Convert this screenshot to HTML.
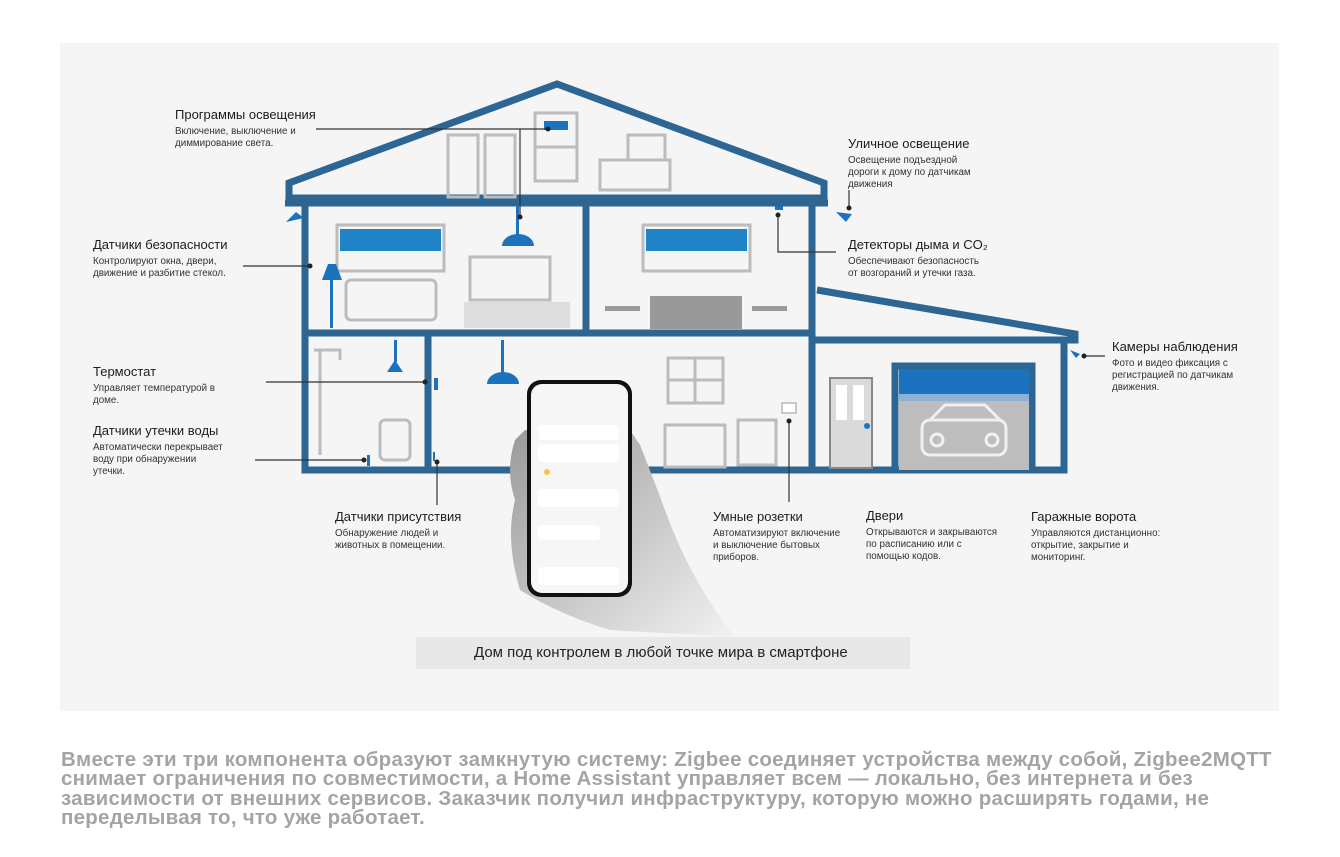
<!DOCTYPE html>
<html><head><meta charset="utf-8"><style>
body{margin:0;background:#fff;width:1340px;height:857px;overflow:hidden;font-family:"Liberation Sans",sans-serif}
.panel{position:absolute;left:60px;top:43px;width:1219px;height:668px;background:#f5f5f5}
svg{position:absolute;left:0;top:0}
.t{position:absolute;color:#222;font-size:12px;line-height:1}
.t b{display:block;font-weight:normal;font-size:13px;margin-bottom:5px;color:#1c1c1c}
.t span{display:block;font-size:9.8px;line-height:12px;color:#333}
.cap{position:absolute;left:416px;top:637px;width:494px;height:32px;background:#e8e8e8;font-size:15px;line-height:32px;color:#222;text-indent:58px}
.para{position:absolute;left:61px;top:750px;width:1228px;font-size:20.5px;font-weight:bold;line-height:19.3px;color:#a4a4a4;letter-spacing:0.25px}
</style></head><body>
<div class="panel"></div>
<svg width="1340" height="857" viewBox="0 0 1340 857">
<defs><linearGradient id="h" x1="0" y1="0" x2="1" y2="1"><stop offset="0" stop-color="#9a9a9a"/><stop offset="1" stop-color="#f2f2f2"/></linearGradient></defs>
<g fill="none" stroke="#2d6593" stroke-width="7">
<polygon points="289,198 289,183 557,84 824,183 824,198"/>
<polyline points="305,203 305,470 812,470 812,203"/>
<line x1="285" y1="203" x2="828" y2="203"/>
<line x1="305" y1="333" x2="812" y2="333"/>
<line x1="586" y1="203" x2="586" y2="333"/>
<line x1="428" y1="333" x2="428" y2="470"/>
<polyline points="817,290 1075,334 1075,340 812,340"/>
<polyline points="1064,340 1064,470 812,470"/>
<polyline points="895,470 895,366 1032,366 1032,470"/>
</g>
<rect x="899" y="369" width="130" height="101" fill="#bdbdbd"/>
<rect x="899" y="369" width="130" height="25" fill="#1b73be"/>
<rect x="899" y="394" width="130" height="7" fill="#8db0d4"/>
<g fill="none" stroke="#f0f0f0" stroke-width="3"><rect x="922" y="420" width="84" height="35" rx="8"/><path d="M930 420 L945 405 H985 L1000 420"/><circle cx="937" cy="440" r="6"/><circle cx="992" cy="440" r="6"/></g>
<rect x="830" y="378" width="42" height="90" fill="#dadada" stroke="#888" stroke-width="2"/>
<rect x="836" y="385" width="11" height="35" fill="#fff"/><rect x="853" y="385" width="11" height="35" fill="#fff"/>
<circle cx="867" cy="426" r="3" fill="#1b73be"/>
<g stroke="#bcbcbc" stroke-width="3" fill="none">
<rect x="337" y="225" width="107" height="46"/><rect x="643" y="225" width="107" height="46"/>
<rect x="535" y="113" width="42" height="68"/><line x1="535" y1="147" x2="577" y2="147"/>
<rect x="668" y="358" width="55" height="45"/><line x1="695" y1="358" x2="695" y2="403"/><line x1="668" y1="380" x2="723" y2="380"/>
<rect x="448" y="135" width="30" height="62"/><rect x="485" y="135" width="30" height="62"/>
<rect x="470" y="257" width="80" height="43"/>
<rect x="346" y="280" width="90" height="40" rx="5"/>
<rect x="600" y="160" width="70" height="30"/><rect x="628" y="135" width="37" height="25"/>
<path d="M320 350 V455 M314 350 H340 V360"/>
<rect x="380" y="420" width="30" height="40" rx="5"/>
<rect x="665" y="425" width="60" height="42"/><rect x="738" y="420" width="38" height="45"/>
</g>
<rect x="340" y="229" width="101" height="22" fill="#1e84c6"/><rect x="646" y="229" width="101" height="22" fill="#1e84c6"/>
<rect x="464" y="302" width="106" height="26" fill="#ddd"/><rect x="650" y="296" width="92" height="33" fill="#999"/>
<rect x="605" y="306" width="35" height="5" fill="#999"/><rect x="752" y="306" width="35" height="5" fill="#999"/>
<g fill="#1b73be">
<rect x="544" y="121" width="24" height="9"/>
<path d="M502 246 a16 12 0 0 1 32 0 z"/><rect x="516" y="205" width="3" height="30"/>
<path d="M487 384 a16 12 0 0 1 32 0 z"/><rect x="501" y="340" width="3" height="35"/>
<path d="M387 372 l8 -12 l8 12 z"/><rect x="394" y="340" width="3" height="22"/>
<path d="M322 280 l6 -16 h8 l6 16 z"/><rect x="330" y="280" width="3" height="48"/>
<path d="M286 222 l10 -10 l8 6 z"/><path d="M836 212 l10 10 l6 -8 z"/>
<rect x="434" y="378" width="4" height="12"/><rect x="775" y="206" width="8" height="4"/>
<rect x="367" y="455" width="3" height="11"/><rect x="433" y="452" width="2" height="9"/>
<path d="M1070 350 l6 8 l4 -4 z"/>
</g>
<g stroke="#333" stroke-width="1.2" fill="none">
<polyline points="316,129 548,129"/><polyline points="520,129 520,217"/>
<line x1="243" y1="266" x2="310" y2="266"/>
<line x1="266" y1="382" x2="425" y2="382"/>
<line x1="255" y1="460" x2="364" y2="460"/>
<line x1="437" y1="462" x2="437" y2="505"/>
<polyline points="778,215 778,252 836,252"/>
<line x1="849" y1="190" x2="849" y2="208"/>
<line x1="1084" y1="356" x2="1105" y2="356"/>
<line x1="789" y1="421" x2="789" y2="502"/>
</g>
<g fill="#222"><circle cx="548" cy="129" r="2.5"/><circle cx="520" cy="217" r="2.5"/><circle cx="310" cy="266" r="2.5"/><circle cx="425" cy="382" r="2.5"/><circle cx="364" cy="460" r="2.5"/><circle cx="437" cy="462" r="2.5"/><circle cx="778" cy="215" r="2.5"/><circle cx="849" cy="208" r="2.5"/><circle cx="1084" cy="356" r="2.5"/><circle cx="789" cy="421" r="2.5"/></g>
<rect x="782" y="403" width="14" height="10" fill="#fff" stroke="#999"/>
<path d="M515 440 Q505 470 515 500 Q505 540 520 590 Q560 615 610 630 L735 637 Q690 580 665 510 Q650 470 640 445 L630 430 L525 430 Z" fill="url(#h)"/>
<rect x="527" y="380" width="105" height="217" rx="14" fill="#111"/>
<rect x="531" y="384" width="97" height="209" rx="11" fill="#f6f6f6"/>
<g fill="#fff"><rect x="538" y="425" width="81" height="15" rx="4"/><rect x="538" y="444" width="81" height="18" rx="4"/><rect x="538" y="489" width="81" height="18" rx="4"/><rect x="538" y="525" width="62" height="15" rx="4"/><rect x="538" y="567" width="81" height="18" rx="4"/></g>
<g fill="#f3c343"><circle cx="547" cy="472" r="3"/></g>
</svg>
<div class="t" style="left:175px;top:108px"><b>Программы освещения</b><span>Включение, выключение и<br>диммирование света.</span></div>
<div class="t" style="left:93px;top:238px"><b>Датчики безопасности</b><span>Контролируют окна, двери,<br>движение и разбитие стекол.</span></div>
<div class="t" style="left:93px;top:365px"><b>Термостат</b><span>Управляет температурой в<br>доме.</span></div>
<div class="t" style="left:93px;top:424px"><b>Датчики утечки воды</b><span>Автоматически перекрывает<br>воду при обнаружении<br>утечки.</span></div>
<div class="t" style="left:335px;top:510px"><b>Датчики присутствия</b><span>Обнаружение людей и<br>животных в помещении.</span></div>
<div class="t" style="left:848px;top:137px"><b>Уличное освещение</b><span>Освещение подъездной<br>дороги к дому по датчикам<br>движения</span></div>
<div class="t" style="left:848px;top:238px"><b>Детекторы дыма и CO₂</b><span>Обеспечивают безопасность<br>от возгораний и утечки газа.</span></div>
<div class="t" style="left:1112px;top:340px"><b>Камеры наблюдения</b><span>Фото и видео фиксация с<br>регистрацией по датчикам<br>движения.</span></div>
<div class="t" style="left:713px;top:510px"><b>Умные розетки</b><span>Автоматизируют включение<br>и выключение бытовых<br>приборов.</span></div>
<div class="t" style="left:866px;top:509px"><b>Двери</b><span>Открываются и закрываются<br>по расписанию или с<br>помощью кодов.</span></div>
<div class="t" style="left:1031px;top:510px"><b>Гаражные ворота</b><span>Управляются дистанционно:<br>открытие, закрытие и<br>мониторинг.</span></div>
<div class="cap">Дом под контролем в любой точке мира в смартфоне</div>
<div class="para">Вместе эти три компонента образуют замкнутую систему: Zigbee соединяет устройства между собой, Zigbee2MQTT<br>снимает ограничения по совместимости, а Home Assistant управляет всем — локально, без интернета и без<br>зависимости от внешних сервисов. Заказчик получил инфраструктуру, которую можно расширять годами, не<br>переделывая то, что уже работает.</div>
</body></html>
